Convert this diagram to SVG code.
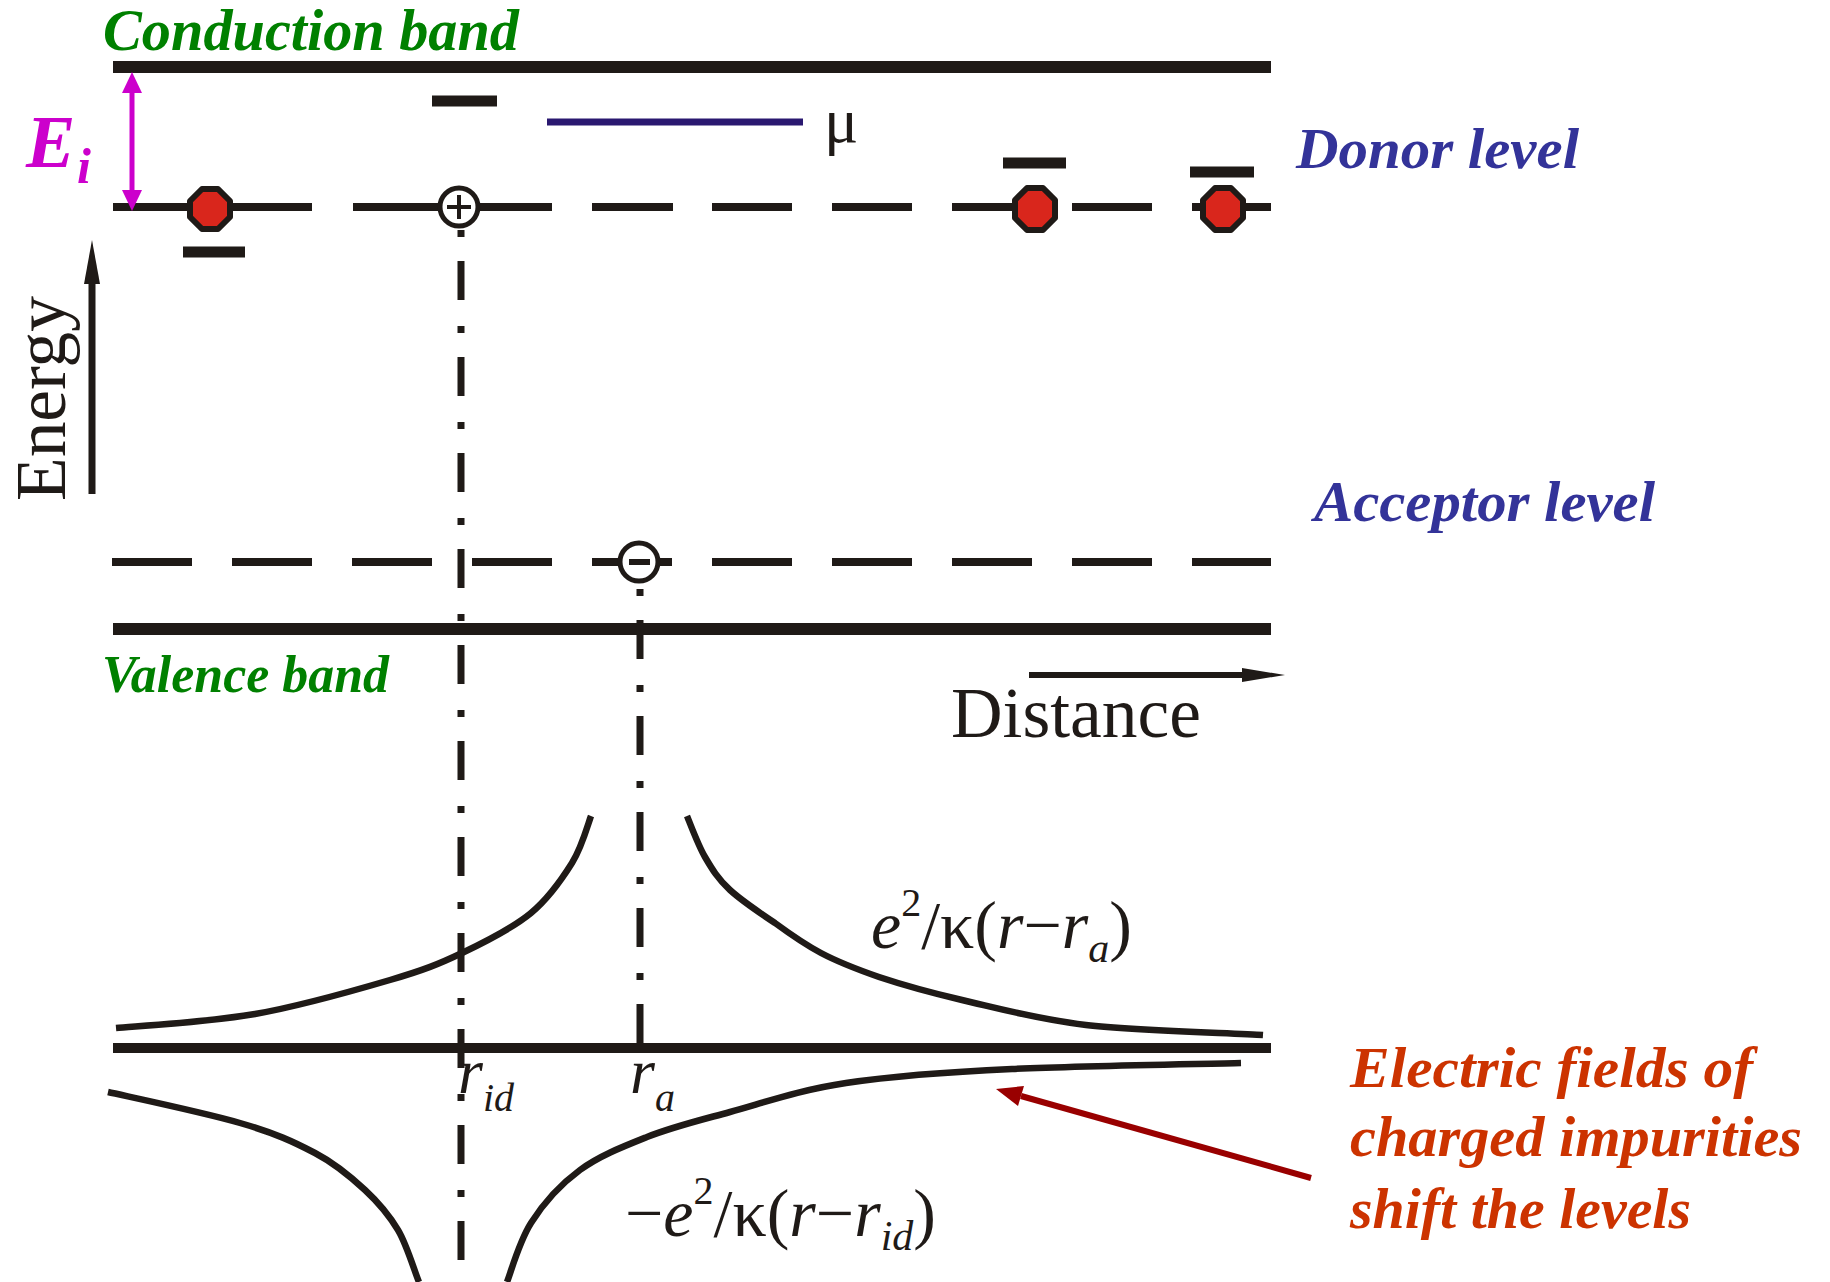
<svg xmlns="http://www.w3.org/2000/svg" width="1830" height="1282" viewBox="0 0 1830 1282">
<style>
.band{stroke:#1f1a17;stroke-width:12;fill:none}
.lvl{stroke:#1f1a17;stroke-width:8;fill:none}
.bar{stroke:#1f1a17;stroke-width:11;fill:none}
.dd{stroke:#1f1a17;stroke-width:7;fill:none;stroke-dasharray:7 24 39 26}
.curve{stroke:#1f1a17;stroke-width:6.5;fill:none;stroke-linejoin:round}
.dot{fill:#d9261c;stroke:#1f1a17;stroke-width:6;stroke-linejoin:round}
.ion{fill:#fff;stroke:#1f1a17;stroke-width:5}
.lbl{font-family:"Liberation Serif",serif;font-weight:bold;font-style:italic}
.green{fill:#008000}
.blue{fill:#333399}
.red{fill:#cc3300}
.math{font-family:"Liberation Serif",serif;fill:#1f1a17}
.it{font-style:italic}
</style>
<rect width="1830" height="1282" fill="#fff"/>

<g id="conduction-band">
<line class="band" x1="113" y1="67" x2="1271" y2="67"/>
<text class="lbl green" x="103" y="50" font-size="59" textLength="416" lengthAdjust="spacingAndGlyphs">Conduction band</text>
</g>

<g id="valence-band">
<line class="band" x1="113" y1="629" x2="1271" y2="629"/>
<text class="lbl green" x="102" y="692" font-size="53" textLength="287" lengthAdjust="spacingAndGlyphs">Valence band</text>
</g>

<g id="donor-level">
<path class="lvl" d="M113 207H312M353 207H552M592 207H673M712 207H792M832 207H912M952 207H1032M1072 207H1152M1192 207H1271"/>
<text class="lbl blue" x="1296" y="168" font-size="58" textLength="283" lengthAdjust="spacingAndGlyphs">Donor level</text>
</g>

<g id="acceptor-level">
<path class="lvl" d="M112 562H192M232 562H312M352 562H432M472 562H552M592 562H672M712 562H792M832 562H912M952 562H1032M1072 562H1152M1192 562H1271"/>
<text class="lbl blue" x="1314" y="521" font-size="58" textLength="341" lengthAdjust="spacingAndGlyphs">Acceptor level</text>
</g>

<g id="shifted-levels">
<line class="bar" x1="432" y1="101" x2="497" y2="101"/>
<line class="bar" x1="183" y1="252" x2="245" y2="252"/>
<line class="bar" x1="1003" y1="163" x2="1066" y2="163"/>
<line class="bar" x1="1190" y1="172" x2="1254" y2="172"/>
</g>

<g id="chemical-potential">
<line x1="547" y1="122" x2="803" y2="122" stroke="#2a1870" stroke-width="7"/>
<text class="math" x="824" y="142" font-size="64">μ</text>
</g>

<g id="ionization-energy">
<line x1="132" y1="88" x2="132" y2="195" stroke="#cc00cc" stroke-width="5"/>
<polygon points="132,72 122,93 142,93" fill="#cc00cc"/>
<polygon points="132,211 122,190 142,190" fill="#cc00cc"/>
<text class="lbl" x="26" y="167" font-size="74" fill="#cc00cc">E</text>
<text class="lbl" x="77" y="183" font-size="50" fill="#cc00cc">i</text>
</g>

<g id="position-lines">
<line class="dd" x1="461" y1="230" x2="461" y2="1282"/>
<line class="dd" x1="640" y1="589" x2="640" y2="1048"/>
</g>

<g id="donors">
<polygon class="dot" points="218,189 230,201 230,217 218,229 202,229 190,217 190,201 202,189"/>
<polygon class="dot" points="1043,188 1055,200 1055,218 1043,230 1027,230 1015,218 1015,200 1027,188"/>
<polygon class="dot" points="1231,188 1243,200 1243,218 1231,230 1215,230 1203,218 1203,200 1215,188"/>
</g>

<g id="ionized-donor">
<circle class="ion" cx="459" cy="207" r="19"/>
<path d="M447 207H471M459 195V219" stroke="#1f1a17" stroke-width="4"/>
</g>

<g id="ionized-acceptor">
<circle class="ion" cx="639" cy="562" r="19"/>
<line x1="629" y1="562" x2="650" y2="562" stroke="#1f1a17" stroke-width="6"/>
</g>

<g id="energy-axis">
<line x1="92" y1="494" x2="92" y2="280" stroke="#1f1a17" stroke-width="7"/>
<polygon points="92,240 84,284 100,284" fill="#1f1a17"/>
<text class="math" transform="translate(65,501) rotate(-90)" font-size="72" textLength="205" lengthAdjust="spacingAndGlyphs">Energy</text>
</g>

<g id="distance-axis">
<line x1="1029" y1="675" x2="1245" y2="675" stroke="#1f1a17" stroke-width="6"/>
<polygon points="1285,675 1242,668 1242,682" fill="#1f1a17"/>
<text class="math" x="951" y="737" font-size="72" textLength="250" lengthAdjust="spacingAndGlyphs">Distance</text>
</g>

<g id="potential-plot">
<line x1="113" y1="1048" x2="1271" y2="1048" stroke="#1f1a17" stroke-width="10"/>
<path class="curve" d="M116 1028C139 1026 209 1022 255 1014C301 1006 356 990 390 980C424 970 439 964 462 953C485 942 513 928 531 913C549 898 562 879 572 863C582 847 588 824 591 816"/>
<path class="curve" d="M687 816C690 823 698 845 705 857C712 869 718 879 730 890C742 901 760 913 775 923C790 934 804 944 821 953C838 962 856 969 879 977C903 985 928 992 962 1000C997 1008 1036 1019 1086 1025C1136 1031 1234 1033 1263 1035"/>
<path class="curve" d="M108 1092C130 1097 206 1113 240 1123C275 1133 294 1142 315 1153C336 1164 351 1177 365 1190C379 1203 389 1215 398 1230C407 1245 415 1273 419 1282"/>
<path class="curve" d="M507 1282C511 1272 519 1242 531 1223C543 1204 561 1184 580 1170C599 1156 622 1147 647 1137C672 1127 697 1121 730 1112C763 1103 799 1090 846 1083C893 1076 946 1072 1012 1069C1078 1066 1203 1064 1241 1063"/>
<text class="math" x="871" y="948" font-size="68"><tspan class="it">e</tspan><tspan dy="-32" font-size="40">2</tspan><tspan dy="32">/κ(</tspan><tspan class="it">r</tspan>−<tspan class="it">r</tspan><tspan class="it" dy="14" font-size="42">a</tspan><tspan dy="-14">)</tspan></text>
<text class="math" x="625" y="1236" font-size="68">−<tspan class="it">e</tspan><tspan dy="-32" font-size="40">2</tspan><tspan dy="32">/κ(</tspan><tspan class="it">r</tspan>−<tspan class="it">r</tspan><tspan class="it" dy="14" font-size="42">id</tspan><tspan dy="-14">)</tspan></text>
<text class="math it" x="458" y="1093" font-size="64">r<tspan dy="18" font-size="40">id</tspan></text>
<text class="math it" x="630" y="1093" font-size="64">r<tspan dy="18" font-size="40">a</tspan></text>
</g>

<g id="connectors">
<line x1="1311" y1="1178" x2="1021" y2="1096" stroke="#990000" stroke-width="6"/>
<polygon points="996,1089 1024,1086 1018,1106" fill="#990000"/>
</g>

<g id="note">
<text class="lbl red" font-size="58"><tspan x="1350" y="1087" textLength="403" lengthAdjust="spacingAndGlyphs">Electric fields of</tspan><tspan x="1350" y="1156" textLength="452" lengthAdjust="spacingAndGlyphs">charged impurities</tspan><tspan x="1350" y="1228" textLength="341" lengthAdjust="spacingAndGlyphs">shift the levels</tspan></text>
</g>
</svg>
